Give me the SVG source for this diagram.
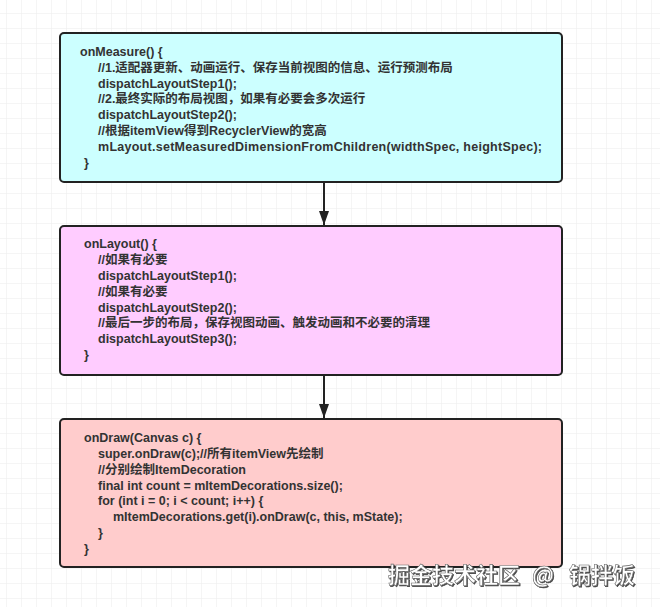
<svg xmlns="http://www.w3.org/2000/svg" width="660" height="607" viewBox="0 0 660 607">
  <defs>
    <pattern id="grid" x="6" y="13" width="15" height="15" patternUnits="userSpaceOnUse">
      <path d="M15 0 L0 0 0 15" fill="none" stroke="#ececec" stroke-width="1"/>
    </pattern>
    <marker id="arrow" viewBox="0 0 14 10" refX="14" refY="5" markerWidth="14" markerHeight="10" markerUnits="userSpaceOnUse" orient="auto">
      <path d="M0 0 L14 5 L0 10 Z" fill="#222"/>
    </marker>
    <filter id="shadow" x="-5%" y="-20%" width="110%" height="150%">
      <feDropShadow dx="1" dy="1" stdDeviation="0.6" flood-color="#333" flood-opacity="0.9"/>
    </filter>
    <style>
      .box { stroke: #222; stroke-width: 2; }
      .t { font-family: "Liberation Sans", "Noto Sans CJK SC", sans-serif; font-size: 12.5px; font-weight: bold; fill: #333; }
      .wm { font-family: "Noto Sans CJK SC", sans-serif; font-size: 22px; font-weight: bold; fill: #fff; stroke: #666; stroke-width: 0.6; }
    </style>
  </defs>
  <rect width="660" height="607" fill="#fff"/>
  <rect width="660" height="607" fill="url(#grid)"/>

  <g id="connectors">
    <line x1="324" y1="182" x2="324" y2="225" stroke="#222" stroke-width="2" marker-end="url(#arrow)"/>
    <line x1="324" y1="375" x2="324" y2="418" stroke="#222" stroke-width="2" marker-end="url(#arrow)"/>
  </g>

  <g id="onMeasure">
    <rect class="box" x="60" y="33" width="502" height="149" rx="4" fill="#ccffff"/>
    <text class="t" x="80" y="56">onMeasure() {</text>
    <text class="t" x="98" y="72">//1.适配器更新、动画运行、保存当前视图的信息、运行预测布局</text>
    <text class="t" x="98" y="88">dispatchLayoutStep1();</text>
    <text class="t" x="98" y="103">//2.最终实际的布局视图，如果有必要会多次运行</text>
    <text class="t" x="98" y="119">dispatchLayoutStep2();</text>
    <text class="t" x="98" y="135">//根据itemView得到RecyclerView的宽高</text>
    <text class="t" x="98" y="151" textLength="444" lengthAdjust="spacing">mLayout.setMeasuredDimensionFromChildren(widthSpec, heightSpec);</text>
    <text class="t" x="84" y="167">}</text>
  </g>

  <g id="onLayout">
    <rect class="box" x="60" y="226" width="502" height="149" rx="4" fill="#ffccff"/>
    <text class="t" x="84" y="248">onLayout() {</text>
    <text class="t" x="98" y="264">//如果有必要</text>
    <text class="t" x="98" y="280">dispatchLayoutStep1();</text>
    <text class="t" x="98" y="296">//如果有必要</text>
    <text class="t" x="98" y="312">dispatchLayoutStep2();</text>
    <text class="t" x="98" y="327">//最后一步的布局，保存视图动画、触发动画和不必要的清理</text>
    <text class="t" x="98" y="343">dispatchLayoutStep3();</text>
    <text class="t" x="84" y="359">}</text>
  </g>

  <g id="onDraw">
    <rect class="box" x="60" y="419" width="502" height="148" rx="4" fill="#ffcccc"/>
    <text class="t" x="84" y="442">onDraw(Canvas c) {</text>
    <text class="t" x="98" y="458">super.onDraw(c);//所有itemView先绘制</text>
    <text class="t" x="98" y="474">//分别绘制ItemDecoration</text>
    <text class="t" x="98" y="490">final int count = mItemDecorations.size();</text>
    <text class="t" x="98" y="505">for (int i = 0; i &lt; count; i++) {</text>
    <text class="t" x="113" y="521">mItemDecorations.get(i).onDraw(c, this, mState);</text>
    <text class="t" x="98" y="537">}</text>
    <text class="t" x="84" y="553">}</text>
  </g>

  <text class="wm" filter="url(#shadow)" x="388" y="583">掘金技术社区<tspan x="532">@</tspan><tspan x="569">锅拌饭</tspan></text>
</svg>
